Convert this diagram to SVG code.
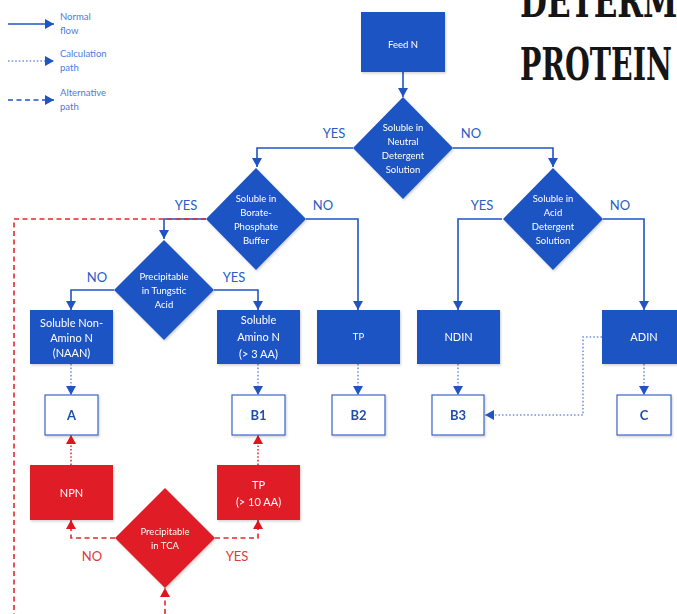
<svg xmlns="http://www.w3.org/2000/svg" width="677" height="614" viewBox="0 0 677 614">
  <style>
    .bl { fill: #1f55c3; }
    .rd { fill: #e01f26; }
    .res { fill: #ffffff; stroke: #3a66c9; stroke-width: 1.2; }
    .nt { font-family: Lato, "Open Sans", sans-serif; font-size: 9.5px; fill: #ffffff; text-anchor: middle; }
    .bt { font-family: Lato, "Open Sans", sans-serif; font-size: 11px; fill: #ffffff; text-anchor: middle; }
    .rt { font-family: Lato, "Open Sans", sans-serif; font-size: 13px; font-weight: bold; fill: #1f4fae; text-anchor: middle; }
    .lbB { font-family: Lato, "Open Sans", sans-serif; font-size: 13px; fill: #2a5cc4; text-anchor: middle; }
    .lbR { font-family: Lato, "Open Sans", sans-serif; font-size: 13px; fill: #e2383c; text-anchor: middle; }
    .leg { font-family: Lato, "Open Sans", sans-serif; font-size: 9.5px; fill: #4a7be0; }
    .ttl { font-family: "DejaVu Serif Condensed", "DejaVu Serif", serif; font-weight: bold; font-size: 44px; fill: #151515; }
    .solid { fill: none; stroke: #1f55c3; stroke-width: 1.6; }
    .calc { fill: none; stroke: #7a96d6; stroke-width: 1.6; stroke-dasharray: 1.6 2; }
    .calcR { fill: none; stroke: #e0373b; stroke-width: 1.6; stroke-dasharray: 1.6 2; }
    .alt { fill: none; stroke: #e0282e; stroke-width: 1.6; stroke-dasharray: 5 3.5; }
    .altB { fill: none; stroke: #1f55c3; stroke-width: 1.6; stroke-dasharray: 5 3.5; }
  </style>
  <defs>
    <marker id="ab" markerUnits="userSpaceOnUse" markerWidth="10" markerHeight="10" refX="9" refY="5" orient="auto">
      <path d="M0,0 L9,5 L0,10 z" fill="#1f55c3"/>
    </marker>
    <marker id="ar" markerUnits="userSpaceOnUse" markerWidth="10" markerHeight="10" refX="9" refY="5" orient="auto">
      <path d="M0,0 L9,5 L0,10 z" fill="#e0141c"/>
    </marker>
    <filter id="sh" x="-10%" y="-10%" width="125%" height="125%">
      <feDropShadow dx="1" dy="1.5" stdDeviation="1.2" flood-color="#000000" flood-opacity="0.18"/>
    </filter>
  </defs>

  <!-- legend -->
  <g id="legend">
    <line class="solid" x1="8" y1="24" x2="54" y2="24" marker-end="url(#ab)"/>
    <text class="leg" x="60" y="20">Normal</text>
    <text class="leg" x="60" y="34">flow</text>
    <line class="calc" x1="8" y1="61" x2="54" y2="61" marker-end="url(#ab)"/>
    <text class="leg" x="60" y="57">Calculation</text>
    <text class="leg" x="60" y="71">path</text>
    <line class="altB" x1="8" y1="100" x2="54" y2="100" marker-end="url(#ab)"/>
    <text class="leg" x="60" y="96">Alternative</text>
    <text class="leg" x="60" y="110">path</text>
  </g>

  <!-- heading -->
  <g id="title">
    <text class="ttl" x="520" y="17" textLength="172" lengthAdjust="spacingAndGlyphs">DETERMI</text>
    <text class="ttl" x="520" y="80" textLength="152" lengthAdjust="spacingAndGlyphs">PROTEIN</text>
  </g>

  <!-- connectors -->
  <g id="connectors">
    <!-- normal flow -->
    <line class="solid" x1="403" y1="72" x2="403" y2="97" marker-end="url(#ab)"/>
    <polyline class="solid" points="353,148 257,148 257,167" marker-end="url(#ab)"/>
    <polyline class="solid" points="453,148 553,148 553,167" marker-end="url(#ab)"/>
    <polyline class="solid" points="206,219 164,219 164,239" marker-end="url(#ab)"/>
    <polyline class="solid" points="306,219 358,219 358,310" marker-end="url(#ab)"/>
    <polyline class="solid" points="114,290 71,290 71,310" marker-end="url(#ab)"/>
    <polyline class="solid" points="214,290 258,290 258,310" marker-end="url(#ab)"/>
    <polyline class="solid" points="502,219 458,219 458,310" marker-end="url(#ab)"/>
    <polyline class="solid" points="603,219 644,219 644,310" marker-end="url(#ab)"/>
    <!-- calculation paths -->
    <line class="calc" x1="71" y1="364" x2="71" y2="395" marker-end="url(#ab)"/>
    <line class="calc" x1="258" y1="364" x2="258" y2="395" marker-end="url(#ab)"/>
    <line class="calc" x1="358" y1="364" x2="358" y2="395" marker-end="url(#ab)"/>
    <line class="calc" x1="458" y1="364" x2="458" y2="395" marker-end="url(#ab)"/>
    <line class="calc" x1="644" y1="364" x2="644" y2="395" marker-end="url(#ab)"/>
    <polyline class="calc" points="602,337 583,337 583,415 485,415" marker-end="url(#ab)"/>
    <line class="calcR" x1="71" y1="465" x2="71" y2="435" marker-end="url(#ar)"/>
    <line class="calcR" x1="258" y1="465" x2="258" y2="435" marker-end="url(#ar)"/>
    <!-- alternative path -->
    <polyline class="alt" points="206,219 14,219 14,614"/>
    <line class="alt" x1="165" y1="614" x2="165" y2="588" marker-end="url(#ar)"/>
    <polyline class="alt" points="115,538 71,538 71,520" marker-end="url(#ar)"/>
    <polyline class="alt" points="215,538 258,538 258,520" marker-end="url(#ar)"/>
    <!-- branch labels -->
    <text class="lbB" x="334" y="138">YES</text>
    <text class="lbB" x="471" y="138">NO</text>
    <text class="lbB" x="186" y="210">YES</text>
    <text class="lbB" x="323" y="210">NO</text>
    <text class="lbB" x="482" y="210">YES</text>
    <text class="lbB" x="620" y="210">NO</text>
    <text class="lbB" x="97" y="282">NO</text>
    <text class="lbB" x="234" y="282">YES</text>
    <text class="lbR" x="92" y="561">NO</text>
    <text class="lbR" x="237" y="561">YES</text>
  </g>

  <!-- nodes -->
  <g id="feed-n" filter="url(#sh)">
    <rect class="bl" x="361" y="12" width="84" height="60"/>
    <text class="nt" x="403" y="48">Feed N</text>
  </g>
  <g id="neutral-detergent" filter="url(#sh)">
    <polygon class="bl" points="403,97 453,148 403,199 353,148"/>
    <text class="nt" x="403" y="131">Soluble in</text>
    <text class="nt" x="403" y="145">Neutral</text>
    <text class="nt" x="403" y="159">Detergent</text>
    <text class="nt" x="403" y="173">Solution</text>
  </g>
  <g id="borate-phosphate" filter="url(#sh)">
    <polygon class="bl" points="256,168 306,219 256,270 206,219"/>
    <text class="nt" x="256" y="202">Soluble in</text>
    <text class="nt" x="256" y="216">Borate-</text>
    <text class="nt" x="256" y="230">Phosphate</text>
    <text class="nt" x="256" y="244">Buffer</text>
  </g>
  <g id="acid-detergent" filter="url(#sh)">
    <polygon class="bl" points="553,168 603,219 553,270 503,219"/>
    <text class="nt" x="553" y="202">Soluble in</text>
    <text class="nt" x="553" y="216">Acid</text>
    <text class="nt" x="553" y="230">Detergent</text>
    <text class="nt" x="553" y="244">Solution</text>
  </g>
  <g id="tungstic-acid" filter="url(#sh)">
    <polygon class="bl" points="164,240 214,290 164,340 114,290"/>
    <text class="nt" x="164" y="280">Precipitable</text>
    <text class="nt" x="164" y="294">in Tungstic</text>
    <text class="nt" x="164" y="308">Acid</text>
  </g>
  <g id="naan" filter="url(#sh)">
    <rect class="bl" x="30" y="310" width="83" height="54"/>
    <text class="bt" x="71.5" y="327">Soluble Non-</text>
    <text class="bt" x="71.5" y="342">Amino N</text>
    <text class="bt" x="71.5" y="357">(NAAN)</text>
  </g>
  <g id="amino-n" filter="url(#sh)">
    <rect class="bl" x="217" y="310" width="83" height="54"/>
    <text class="bt" x="258.5" y="324">Soluble</text>
    <text class="bt" x="258.5" y="341">Amino N</text>
    <text class="bt" x="258.5" y="358">(&gt; 3 AA)</text>
  </g>
  <g id="tp" filter="url(#sh)">
    <rect class="bl" x="317" y="310" width="83" height="54"/>
    <text class="nt" x="358.5" y="340">TP</text>
  </g>
  <g id="ndin" filter="url(#sh)">
    <rect class="bl" x="417" y="310" width="83" height="54"/>
    <text class="bt" x="458.5" y="341">NDIN</text>
  </g>
  <g id="adin" filter="url(#sh)">
    <rect class="bl" x="602" y="310" width="84" height="54"/>
    <text class="bt" x="644" y="341">ADIN</text>
  </g>
  <g id="fraction-a" filter="url(#sh)">
    <rect class="res" x="45" y="395" width="53" height="40"/>
    <text class="rt" x="71.5" y="420">A</text>
  </g>
  <g id="fraction-b1" filter="url(#sh)">
    <rect class="res" x="232" y="395" width="53" height="40"/>
    <text class="rt" x="258.5" y="420">B1</text>
  </g>
  <g id="fraction-b2" filter="url(#sh)">
    <rect class="res" x="332" y="395" width="53" height="40"/>
    <text class="rt" x="358.5" y="420">B2</text>
  </g>
  <g id="fraction-b3" filter="url(#sh)">
    <rect class="res" x="432" y="395" width="52" height="40"/>
    <text class="rt" x="458" y="420">B3</text>
  </g>
  <g id="fraction-c" filter="url(#sh)">
    <rect class="res" x="617" y="395" width="54" height="40"/>
    <text class="rt" x="644" y="420">C</text>
  </g>
  <g id="npn" filter="url(#sh)">
    <rect class="rd" x="30" y="465" width="83" height="55"/>
    <text class="bt" x="71.5" y="497">NPN</text>
  </g>
  <g id="tp-10aa" filter="url(#sh)">
    <rect class="rd" x="217" y="465" width="83" height="55"/>
    <text class="bt" x="258.5" y="489">TP</text>
    <text class="bt" x="258.5" y="506">(&gt; 10 AA)</text>
  </g>
  <g id="tca" filter="url(#sh)">
    <polygon class="rd" points="165,488 215,538 165,588 115,538"/>
    <text class="nt" x="165" y="535">Precipitable</text>
    <text class="nt" x="165" y="549">in TCA</text>
  </g>
</svg>
